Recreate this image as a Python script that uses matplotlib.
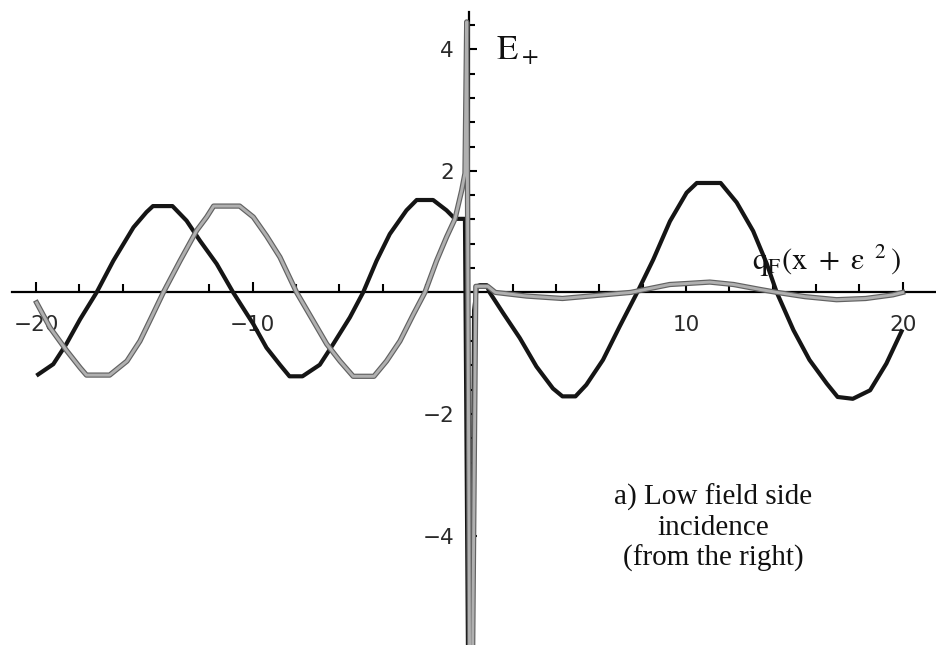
import matplotlib
matplotlib.use("Agg")
import matplotlib.pyplot as plt
import matplotlib.patheffects as pe
import numpy as np

# curve: black = one field component, grey = the other
black_x = [-19.9, -19.2, -18.6, -17.96, -17.2, -16.43, -15.5, -14.9, -14.6, -13.7,
           -13.05, -12.43, -11.66, -10.9, -9.97, -9.36, -8.74, -8.3, -7.7, -6.9,
           -6.28, -5.51, -4.9, -4.28, -3.67, -2.9, -2.43, -1.67, -1.05, -0.66,
           -0.2, -0.05, 0.12, 0.22, 0.35, 0.5, 0.8, 0.94,
           1.56, 2.33, 3.10, 3.86, 4.3, 4.9, 5.40, 6.17, 6.94, 7.75,
           8.49, 9.26, 10.03, 10.5, 11.6, 12.34, 13.1, 13.72, 14.19, 14.96,
           15.7, 16.5, 17.0, 17.7, 18.5, 19.25, 19.95]
black_y = [-1.35, -1.18, -0.85, -0.44, 0.0, 0.52, 1.07, 1.32, 1.42, 1.42,
           1.18, 0.85, 0.47, 0.0, -0.52, -0.91, -1.19, -1.38, -1.38, -1.19,
           -0.85, -0.41, 0.0, 0.52, 0.96, 1.35, 1.52, 1.52, 1.35, 1.21,
           1.21, -6.5, -6.5, -0.3, 0.10, 0.12, 0.12, 0.0,
           -0.34, -0.75, -1.22, -1.58, -1.71, -1.71, -1.52, -1.11, -0.56, 0.0,
           0.54, 1.17, 1.64, 1.80, 1.80, 1.48, 1.01, 0.48, 0.0, -0.62,
           -1.11, -1.50, -1.72, -1.75, -1.61, -1.17, -0.64]

grey_x = [-19.97, -19.35, -18.58, -17.96, -17.67, -16.6, -15.8, -15.2, -14.67, -14.12,
          -13.35, -12.58, -12.12, -11.8, -10.6, -9.97, -9.36, -8.74, -7.97, -7.2,
          -6.58, -5.97, -5.36, -4.4, -3.82, -3.2, -2.58, -2.05, -1.51, -1.05,
          -0.66, -0.35, -0.2, -0.12, 0.02, 0.14, 0.3,
          0.45, 0.85, 1.2, 2.64, 4.3, 5.86, 7.45, 9.25, 10.2, 11.1,
          12.2, 13.4, 14.2, 15.5, 16.95, 18.3, 19.55, 20.0]
grey_y = [-0.17, -0.58, -0.96, -1.24, -1.36, -1.36, -1.13, -0.80, -0.41, 0.0,
          0.52, 1.02, 1.24, 1.42, 1.42, 1.24, 0.93, 0.58, 0.0, -0.47,
          -0.85, -1.13, -1.38, -1.38, -1.13, -0.80, -0.36, 0.0, 0.52, 0.91,
          1.21, 1.68, 1.96, 4.45, -6.5, -6.5, 0.10,
          0.10, 0.10, 0.0, -0.06, -0.10, -0.05, 0.0, 0.13, 0.15, 0.17,
          0.13, 0.05, 0.0, -0.07, -0.12, -0.10, -0.04, 0.0]

x_labels = [-20, -10, 10, 20]
y_labels = [-4, -2, 2, 4]

plt.rcParams['mathtext.fontset'] = 'stix'

fig = plt.figure(figsize=(9.36, 6.45), dpi=100)
ax = fig.add_axes([0, 0, 1, 1])
ax.set_xlim(-21.66, 21.54)
ax.set_ylim(-5.80, 4.81)

ax.plot(black_x, black_y, color='#151515', lw=3.0, zorder=4)
ax.plot(grey_x, grey_y, color='#b0b0b0', lw=2.1, zorder=5,
        path_effects=[pe.Stroke(linewidth=3.8, foreground='#626262'), pe.Normal()])

for s in ['top', 'right']:
    ax.spines[s].set_visible(False)
ax.spines['left'].set_position(('data', 0))
ax.spines['bottom'].set_position(('data', 0))
ax.spines['left'].set_bounds(-5.80, 4.61)
ax.spines['bottom'].set_bounds(-21.1, 21.54)
ax.spines['left'].set_linewidth(1.6)
ax.spines['bottom'].set_linewidth(1.6)

ax.set_xticks(x_labels)
ax.set_xticklabels(['\u221220', '\u221210', '10', '20'])
ax.set_yticks(y_labels)
ax.set_yticklabels(['\u22124', '\u22122', '2', '4'])
ax.set_xticks([v for v in range(-20, 21, 2) if v % 10 != 0], minor=True)
ax.set_yticks([v for v in np.arange(-5.6, 4.7, 0.4) if abs(v) > 0.01 and abs(v % 2) > 0.01 and abs(v % 2 - 2) > 0.01], minor=True)

ax.tick_params(axis='x', which='major', direction='in', length=7.5, width=1.5, pad=16.5,
               labelsize=15.5, labelcolor='#2a2a2a')
ax.tick_params(axis='x', which='minor', direction='in', length=5.5, width=1.5)
ax.tick_params(axis='y', which='major', direction='in', length=6, width=1.5, pad=11,
               labelsize=15.5, labelcolor='#2a2a2a')
ax.tick_params(axis='y', which='minor', direction='in', length=4.5, width=1.5)

ax.text(1.23, 3.82, r'$\mathrm{E_+}$', fontsize=25, ha='left', va='baseline', color='#111')
ax.text(13.04, 0.37, r'$\mathrm{q_F(x\ +\ \varepsilon^{\ \ 2}\,)}$', fontsize=22,
        ha='left', va='baseline', color='#111', zorder=6)
ax.text(11.25, -3.87, 'a) Low field side\nincidence\n(from the right)',
        fontsize=21, family='Liberation Serif', ha='center', va='center',
        multialignment='center', linespacing=1.18, color='#111')

fig.savefig('out.png', dpi=100, facecolor='white')
